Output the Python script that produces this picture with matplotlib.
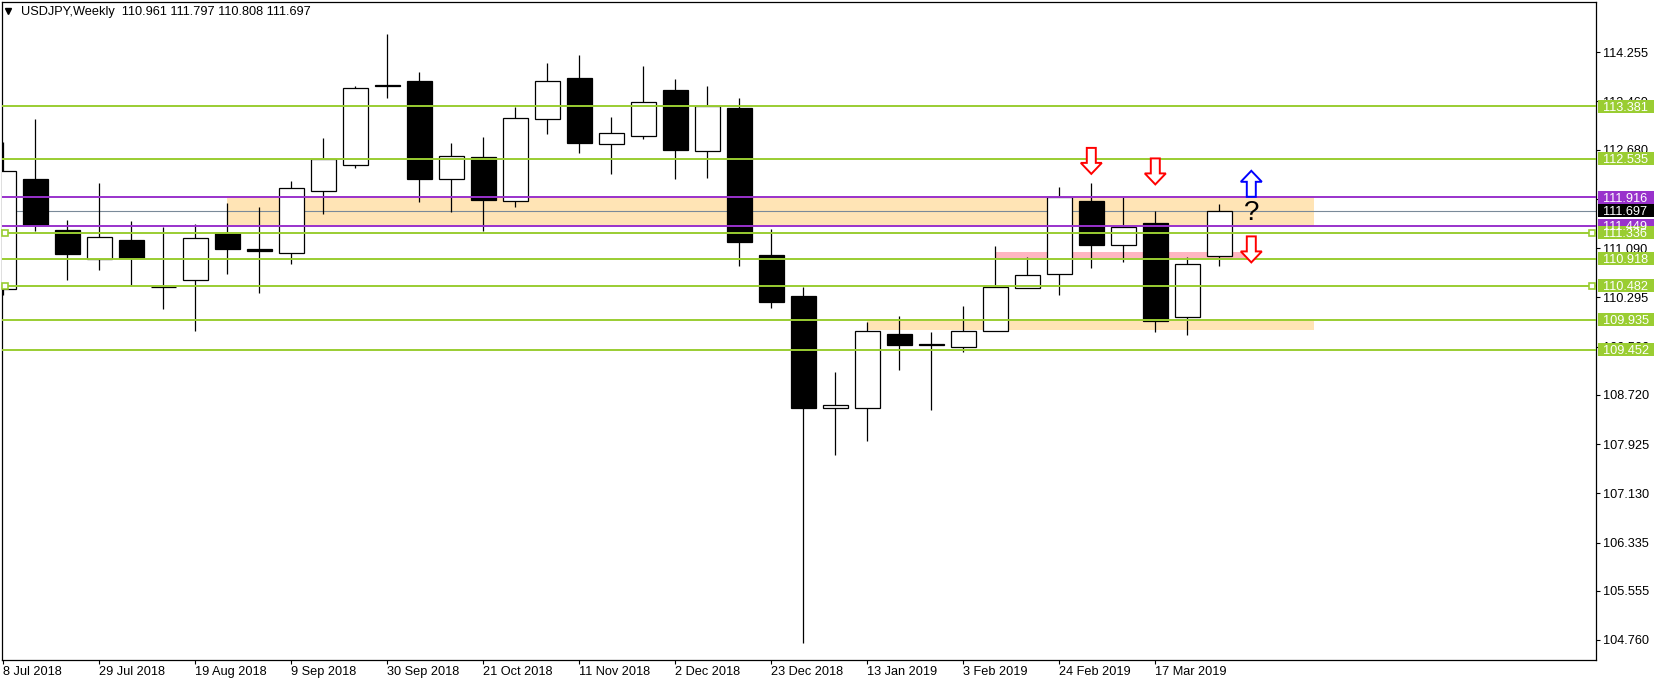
import matplotlib
matplotlib.use("Agg")
import matplotlib.pyplot as plt
from matplotlib.patches import Rectangle, Polygon
from matplotlib.lines import Line2D
import matplotlib.transforms as mtransforms

plt.rcParams['font.family'] = ['Liberation Sans', 'DejaVu Sans']

# weekly USDJPY candles, 8 Jul 2018 .. 31 Mar 2019
opens = [110.43, 112.21, 111.38, 110.92, 111.22, 110.47, 110.57, 111.33, 111.07, 111.02,
         112.01, 112.43, 113.73, 113.79, 112.20, 112.57, 111.85, 113.17, 113.84, 112.77,
         112.91, 113.64, 112.66, 113.36, 110.98, 110.32, 108.50, 108.51, 109.70, 109.54,
         109.50, 109.76, 110.45, 110.67, 111.85, 111.14, 111.49, 109.98, 110.961]
highs = [112.80, 113.18, 111.545, 112.14, 111.53, 111.44, 111.48, 111.82, 111.755, 112.175,
         112.87, 113.71, 114.55, 113.94, 112.79, 112.885, 113.37, 114.08, 114.21, 113.21,
         114.03, 113.82, 113.71, 113.52, 111.40, 110.47, 109.09, 109.89, 109.99, 109.73,
         110.16, 111.13, 110.94, 112.08, 112.14, 111.91, 111.69, 110.94, 111.797]
lows = [110.33, 111.37, 110.58, 110.74, 110.50, 110.10, 109.76, 110.68, 110.37, 110.84,
        111.65, 112.39, 113.51, 111.83, 111.68, 111.36, 111.76, 112.94, 112.63, 112.29,
        112.86, 112.21, 112.23, 110.81, 110.13, 104.71, 107.75, 107.98, 109.12, 108.48,
        109.42, 109.75, 110.44, 110.33, 110.77, 110.87, 109.73, 109.69, 110.808]
closes = [112.33, 111.46, 110.99, 111.265, 110.93, 110.46, 111.25, 111.08, 111.05, 112.06,
          112.525, 113.67, 113.71, 112.20, 112.575, 111.87, 113.19, 113.785, 112.79, 112.95,
          113.45, 112.68, 113.39, 111.19, 110.225, 108.51, 108.55, 109.76, 109.53, 109.52,
          109.75, 110.46, 110.65, 111.92, 111.145, 111.44, 109.92, 110.83, 111.697]

date_ticks = [0, 3, 6, 9, 12, 15, 18, 21, 24, 27, 30, 33, 36]
date_labels = ["8 Jul 2018", "29 Jul 2018", "19 Aug 2018", "9 Sep 2018", "30 Sep 2018",
               "21 Oct 2018", "11 Nov 2018", "2 Dec 2018", "23 Dec 2018", "13 Jan 2019",
               "3 Feb 2019", "24 Feb 2019", "17 Mar 2019"]
price_ticks = [114.255, 113.460, 112.680, 111.885, 111.090, 110.295, 109.500,
               108.720, 107.925, 107.130, 106.335, 105.555, 104.760]

green_levels = [113.381, 112.535, 111.336, 110.918, 110.482, 109.935, 109.452]
purple_levels = [111.916, 111.449]
bid = 111.697

# zones: start bar, end bar, low, high, colour
zone_start = [7, 27, 31]
zone_end = [40.96, 40.96, 38.8]
zone_low = [111.455, 109.77, 110.918]
zone_high = [111.935, 109.94, 111.03]
zone_color = ['#FFE4B5', '#FFE4B5', '#FFB6C1']

# arrows: bar, tip price, direction
arrow_x = [34, 36, 39, 39]
arrow_tip = [112.29, 112.12, 110.86, 112.34]
arrow_dir = ['down', 'down', 'down', 'up']
arrow_col = ['red', 'red', 'red', 'blue']

FS = 9.2
W, H = 1660, 683
fig = plt.figure(figsize=(W / 100, H / 100), dpi=100)
ax_l, ax_r, ax_t, ax_b = 1.5, 1596, 2, 659.5
ax = fig.add_axes([ax_l / W, 1 - ax_b / H, (ax_r - ax_l) / W, (ax_b - ax_t) / H])
x0, x1 = (ax_l - 3.3) / 32, (ax_r - 3.3) / 32
y0, y1 = 104.76 - (ax_b - 640) / 61.9, 104.76 + (640 - ax_t) / 61.9
ax.set_xlim(x0, x1)
ax.set_ylim(y0, y1)
px_x = (x1 - x0) / (ax_r - ax_l)
px_y = (y1 - y0) / (ax_b - ax_t)

for s in ax.spines.values():
    s.set_linewidth(0.9)

# zones
for a, b, lo, hi, c in zip(zone_start, zone_end, zone_low, zone_high, zone_color):
    ax.add_patch(Rectangle((a, lo), b - a, hi - lo, fc=c, ec='none', zorder=1))

ax.axhline(bid, color='#7a8a99', lw=0.8, zorder=2)

# candles
bw = 0.78
for i in range(len(opens)):
    o, h, l, c = opens[i], highs[i], lows[i], closes[i]
    ax.plot([i, i], [l, h], color='black', lw=0.9, zorder=3, solid_capstyle='butt')
    fc = 'black' if c < o else 'white'
    ax.add_patch(Rectangle((i - bw / 2, min(o, c)), bw, abs(c - o),
                           fc=fc, ec='black', lw=0.9, zorder=4))

for lv in green_levels:
    ax.axhline(lv, color='#9ACD32', lw=1.4, zorder=5)
for lv in purple_levels:
    ax.axhline(lv, color='#9932CC', lw=1.4, zorder=5)

# small anchor squares
for lv in [111.336, 110.482]:
    ax.plot([0.05, 49.65], [lv, lv], ls='none', marker='s', ms=4, mfc='white',
            mec='#9ACD32', mew=1.2, zorder=6, clip_on=False)

# block arrows
def block_arrow(xc, tip, d, col):
    hl, hw, sw, tl = 11 * px_y, 10.5 * px_x, 4.5 * px_x, 26 * px_y
    s = -1 if d == 'down' else 1
    pts = [(xc, tip), (xc - hw, tip - s * hl), (xc - sw, tip - s * hl),
           (xc - sw, tip - s * tl), (xc + sw, tip - s * tl), (xc + sw, tip - s * hl),
           (xc + hw, tip - s * hl)]
    ax.add_patch(Polygon(pts, closed=True, fc='white', ec=col, lw=1.4, zorder=7))

for xa, tp, d, c in zip(arrow_x, arrow_tip, arrow_dir, arrow_col):
    block_arrow(xa, tp, d, c)

ax.text(39, 111.66, "?", fontsize=20, ha='center', va='center', color='black', zorder=8)

# axes ticks
ax.yaxis.tick_right()
ax.set_yticks(price_ticks)
ax.set_yticklabels([f"{p:.3f}" for p in price_ticks])
ax.set_xticks(date_ticks)
ax.set_xticklabels(date_labels)
for t in ax.get_xticklabels():
    t.set_horizontalalignment('left')
ax.tick_params(axis='both', labelsize=FS, length=3.2, width=0.8, pad=1.5, colors='black')
ax.tick_params(axis='y', pad=2)

# price labels on the right
trans = mtransforms.blended_transform_factory(ax.transAxes, ax.transData)
bx0 = (1597.5 - ax_l) / (ax_r - ax_l)
bwid = 57 / (ax_r - ax_l)
bh = 13 * px_y
tx = (1602.5 - ax_l) / (ax_r - ax_l)
lab = {lv: '#9ACD32' for lv in green_levels}
lab.update({lv: '#9932CC' for lv in purple_levels})
lab[bid] = 'black'
order = [113.381, 112.535, 111.916, 111.697, 111.449, 111.336, 110.918, 110.482, 109.935, 109.452]
for lv in order:
    c = lab[lv]
    ax.add_patch(Rectangle((bx0, lv - bh / 2), bwid, bh, transform=trans, fc=c, ec='none',
                           zorder=9, clip_on=False))
    ax.text(tx, lv, f"{lv:.3f}", transform=trans, color='white', fontsize=FS,
            ha='left', va='center_baseline', zorder=10, clip_on=False)

# header
fig.add_artist(Line2D([8 / W], [1 - 11 / H], marker='v', ms=5, color='black',
                      transform=fig.transFigure))
fig.text(21 / W, 1 - 12.5 / H, "USDJPY,Weekly  110.961 111.797 110.808 111.697",
         fontsize=FS, ha='left', va='center', color='black')

fig.savefig("out.png", dpi=100, facecolor='white')
